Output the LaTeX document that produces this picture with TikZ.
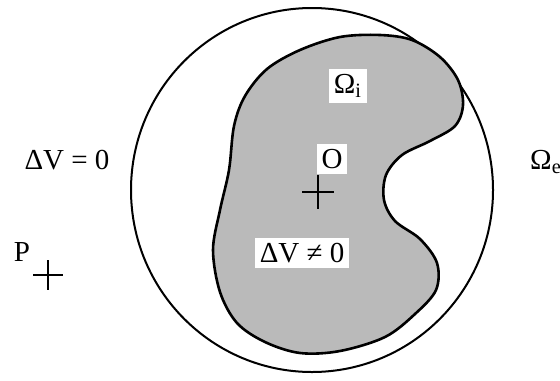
\documentclass[tikz,border=0pt]{standalone}
\usepackage{fontspec}
\setmainfont{Liberation Serif}
\usetikzlibrary{positioning}

\begin{document}
\begin{tikzpicture}[
    x=0.5pt, y=-0.5pt,
    lbl/.style={font=\fontsize{14.5}{17}\selectfont, inner sep=1.5pt},
    boxlbl/.style={lbl, fill=white, inner sep=2.5pt},
    region/.style={draw=black, line width=1.3pt, fill=black!27},
    cross/.style={line width=1.4pt}
]
    \useasboundingbox (0,0) rectangle (560,380);

    % outer circle
    \draw[line width=1pt] (312,190) ellipse [x radius=181, y radius=182];

    % inner region
    \draw[region] plot[smooth cycle, tension=0.55] coordinates {
        (340,37) (380,35) (412,40) (440,57) (458,80) (463,105) (455,126)
        (430,141) (402,155) (386,175) (384,200) (395,221) (420,239)
        (437,263) (436,290) (415,314) (385,337) (340,351) (300,353)
        (265,342) (237,323) (220,292) (213,250) (220,210) (229,170)
        (234,126) (245,96) (267,69) (300,50)};

    % labels
    \node[boxlbl] (omegai) at (348,86) {Ω\textsubscript{i}};
    \node[boxlbl] (orig) at (332,159) {O};
    \node[boxlbl] (lapin) at (302,253) {ΔV ≠ 0};
    \node[lbl] (lapout) at (67,160) {ΔV = 0};
    \node[lbl] (omegae) at (546,162) {Ω\textsubscript{e}};
    \node[lbl] (pt) at (22,252) {P};

    % crosses
    \coordinate (o) at (318,192);
    \coordinate (p) at (48,275);
    \draw[cross] ([xshift=-8pt]o) -- ([xshift=8pt]o);
    \draw[cross] ([yshift=8.5pt]o) -- ([yshift=-8.5pt]o);
    \draw[cross] ([xshift=-7.5pt]p) -- ([xshift=7.5pt]p);
    \draw[cross] ([yshift=7.5pt]p) -- ([yshift=-7.5pt]p);
\end{tikzpicture}
\end{document}
